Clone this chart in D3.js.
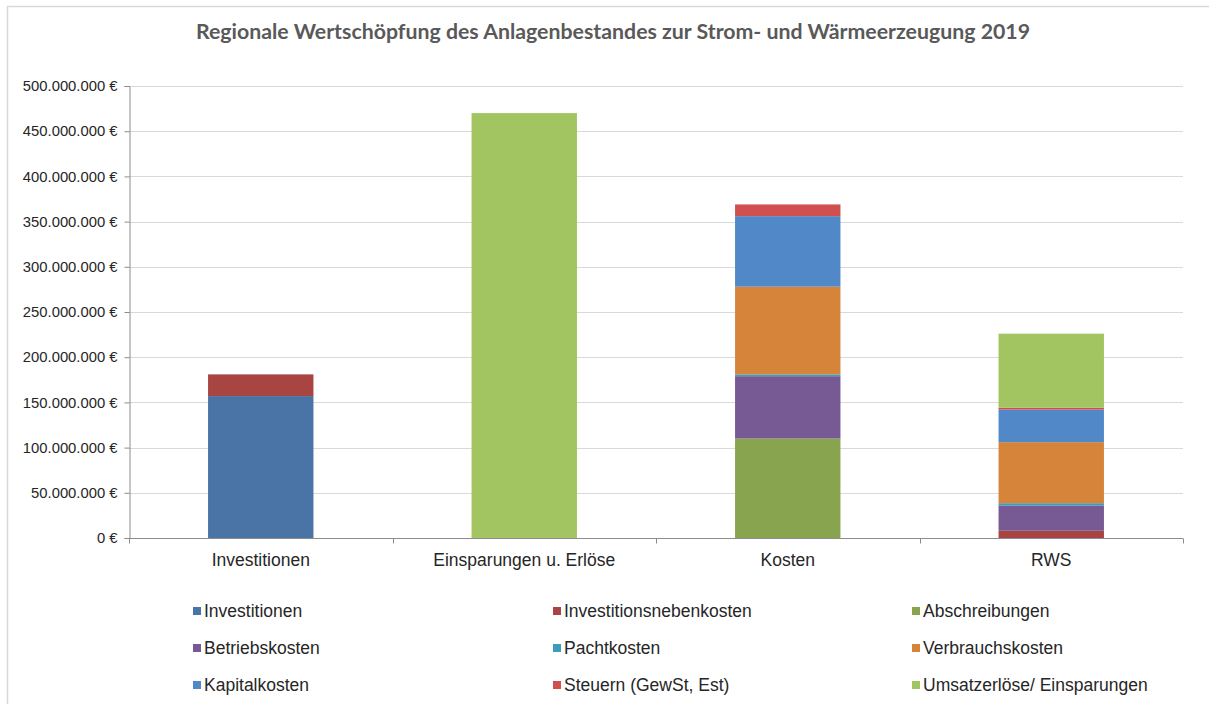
<!DOCTYPE html>
<html>
<head>
<meta charset="utf-8">
<script src="https://cdn.jsdelivr.net/npm/d3@7"></script>
<style>
html,body{margin:0;padding:0;background:#fff;}
svg{display:block;}
</style>
</head>
<body>
<svg id="chart" width="1209" height="704"></svg>
<script>
const title = "Regionale Wertschöpfung des Anlagenbestandes zur Strom- und Wärmeerzeugung 2019";
const categories = ["Investitionen", "Einsparungen u. Erlöse", "Kosten", "RWS"];
const seriesNames = ["Investitionen", "Investitionsnebenkosten", "Abschreibungen", "Betriebskosten", "Pachtkosten", "Verbrauchskosten", "Kapitalkosten", "Steuern (GewSt, Est)", "Umsatzerlöse/ Einsparungen"];
const seriesColors = ["#4a74a6", "#a84543", "#88a44f", "#775a93", "#3d9cbb", "#d7843b", "#5189c8", "#cf504e", "#a2c562"];
// values in euro, per category
const investitionen          = [157e6, 0, 0, 0];
const investitionsnebenkosten = [24e6, 0, 0, 8e6];
const abschreibungen         = [0, 0, 110e6, 0];
const betriebskosten         = [0, 0, 69e6, 28e6];
const pachtkosten            = [0, 0, 2e6, 2.5e6];
const verbrauchskosten       = [0, 0, 97e6, 67.5e6];
const kapitalkosten          = [0, 0, 78e6, 36e6];
const steuern                = [0, 0, 13e6, 2e6];
const umsatzerloese          = [0, 470e6, 0, 82e6];
const yTicks = [0, 50e6, 100e6, 150e6, 200e6, 250e6, 300e6, 350e6, 400e6, 450e6, 500e6];

const seriesValues = [investitionen, investitionsnebenkosten, abschreibungen, betriebskosten, pachtkosten, verbrauchskosten, kapitalkosten, steuern, umsatzerloese];

const svg = d3.select("#chart");
const W = 1209, H = 704;
const m = {left: 129, right: 1183, top: 86, bottom: 538};
const sans = "'Liberation Sans', Arial, sans-serif";

// outer frame
svg.append("rect").attr("x", 7.5).attr("y", 6.5).attr("width", W).attr("height", H)
  .attr("fill", "#fff").attr("stroke", "#d9d9d9").attr("stroke-width", 1.5);

// title
svg.append("text").attr("x", 613).attr("y", 39).attr("text-anchor", "middle")
  .attr("font-family", "Lato, 'Open Sans', sans-serif").attr("font-weight", "bold")
  .attr("font-size", 21.3).attr("fill", "#595959").text(title);

const y = d3.scaleLinear().domain([0, 500e6]).range([m.bottom, m.top]);
const x = d3.scaleBand().domain(categories).range([m.left, m.right]).paddingInner(0.6).paddingOuter(0.3);

const de = d3.formatLocale({decimal: ",", thousands: ".", grouping: [3], currency: ["", " €"]});
const fmt = v => de.format(",.0f")(v) + " €";

// gridlines
svg.append("g").selectAll("line").data(yTicks.filter(d => d > 0)).join("line")
  .attr("x1", m.left).attr("x2", m.right)
  .attr("y1", d => Math.round(y(d)) + 0.5).attr("y2", d => Math.round(y(d)) + 0.5)
  .attr("stroke", "#d9d9d9").attr("stroke-width", 1);

// stacked data
const rows = categories.map((c, i) => {
  const r = {cat: c};
  seriesNames.forEach((s, j) => r[s] = seriesValues[j][i]);
  return r;
});
const stack = d3.stack().keys(seriesNames)(rows);
svg.append("g").selectAll("g").data(stack).join("g")
  .attr("fill", (d, i) => seriesColors[i])
  .selectAll("rect").data(d => d).join("rect")
  .attr("x", d => x(d.data.cat)).attr("width", x.bandwidth())
  .attr("y", d => y(d[1])).attr("height", d => Math.max(0, y(d[0]) - y(d[1])));

// y axis
const yAxis = d3.axisLeft(y).tickValues(yTicks).tickFormat(fmt).tickSize(5).tickPadding(7);
const gy = svg.append("g").attr("transform", `translate(${m.left + 0.5},0)`).call(yAxis);
gy.select(".domain").attr("stroke", "#8c8c8c");
gy.selectAll(".tick line").attr("stroke", "#8c8c8c");
gy.selectAll(".tick text").attr("font-family", sans)
  .attr("font-size", 14.8).attr("fill", "#262626");

// x axis
const xAxis = d3.axisBottom(x).tickSize(0).tickPadding(15);
const gx = svg.append("g").attr("transform", `translate(0,${m.bottom + 0.5})`).call(xAxis);
gx.select(".domain").attr("stroke", "#8c8c8c").attr("d", `M${m.left},0H${m.right}`);
gx.selectAll(".tick text").attr("font-family", sans)
  .attr("font-size", 17.5).attr("fill", "#262626");
// category boundary ticks
const bAll = [m.left].concat(categories.slice(1).map(c => x(c) - (x.step() - x.bandwidth()) / 2)).concat([m.right]);
gx.append("g").selectAll("line").data(bAll).join("line")
  .attr("x1", d => Math.round(d) + 0.5).attr("x2", d => Math.round(d) + 0.5)
  .attr("y1", 0).attr("y2", 5).attr("stroke", "#8c8c8c");

// legend
const legCols = [193, 553, 912];
const legRows = [611, 648, 685];
const leg = svg.append("g").selectAll("g").data(seriesNames).join("g")
  .attr("transform", (d, i) => `translate(${legCols[i % 3]},${legRows[Math.floor(i / 3)]})`);
leg.append("rect").attr("x", 0).attr("y", -4).attr("width", 8).attr("height", 8)
  .attr("fill", (d, i) => seriesColors[i]);
leg.append("text").attr("x", 11).attr("y", 0).attr("dy", "0.35em")
  .attr("font-family", sans).attr("font-size", 17.5)
  .attr("fill", "#262626").text(d => d);
</script>
</body>
</html>
